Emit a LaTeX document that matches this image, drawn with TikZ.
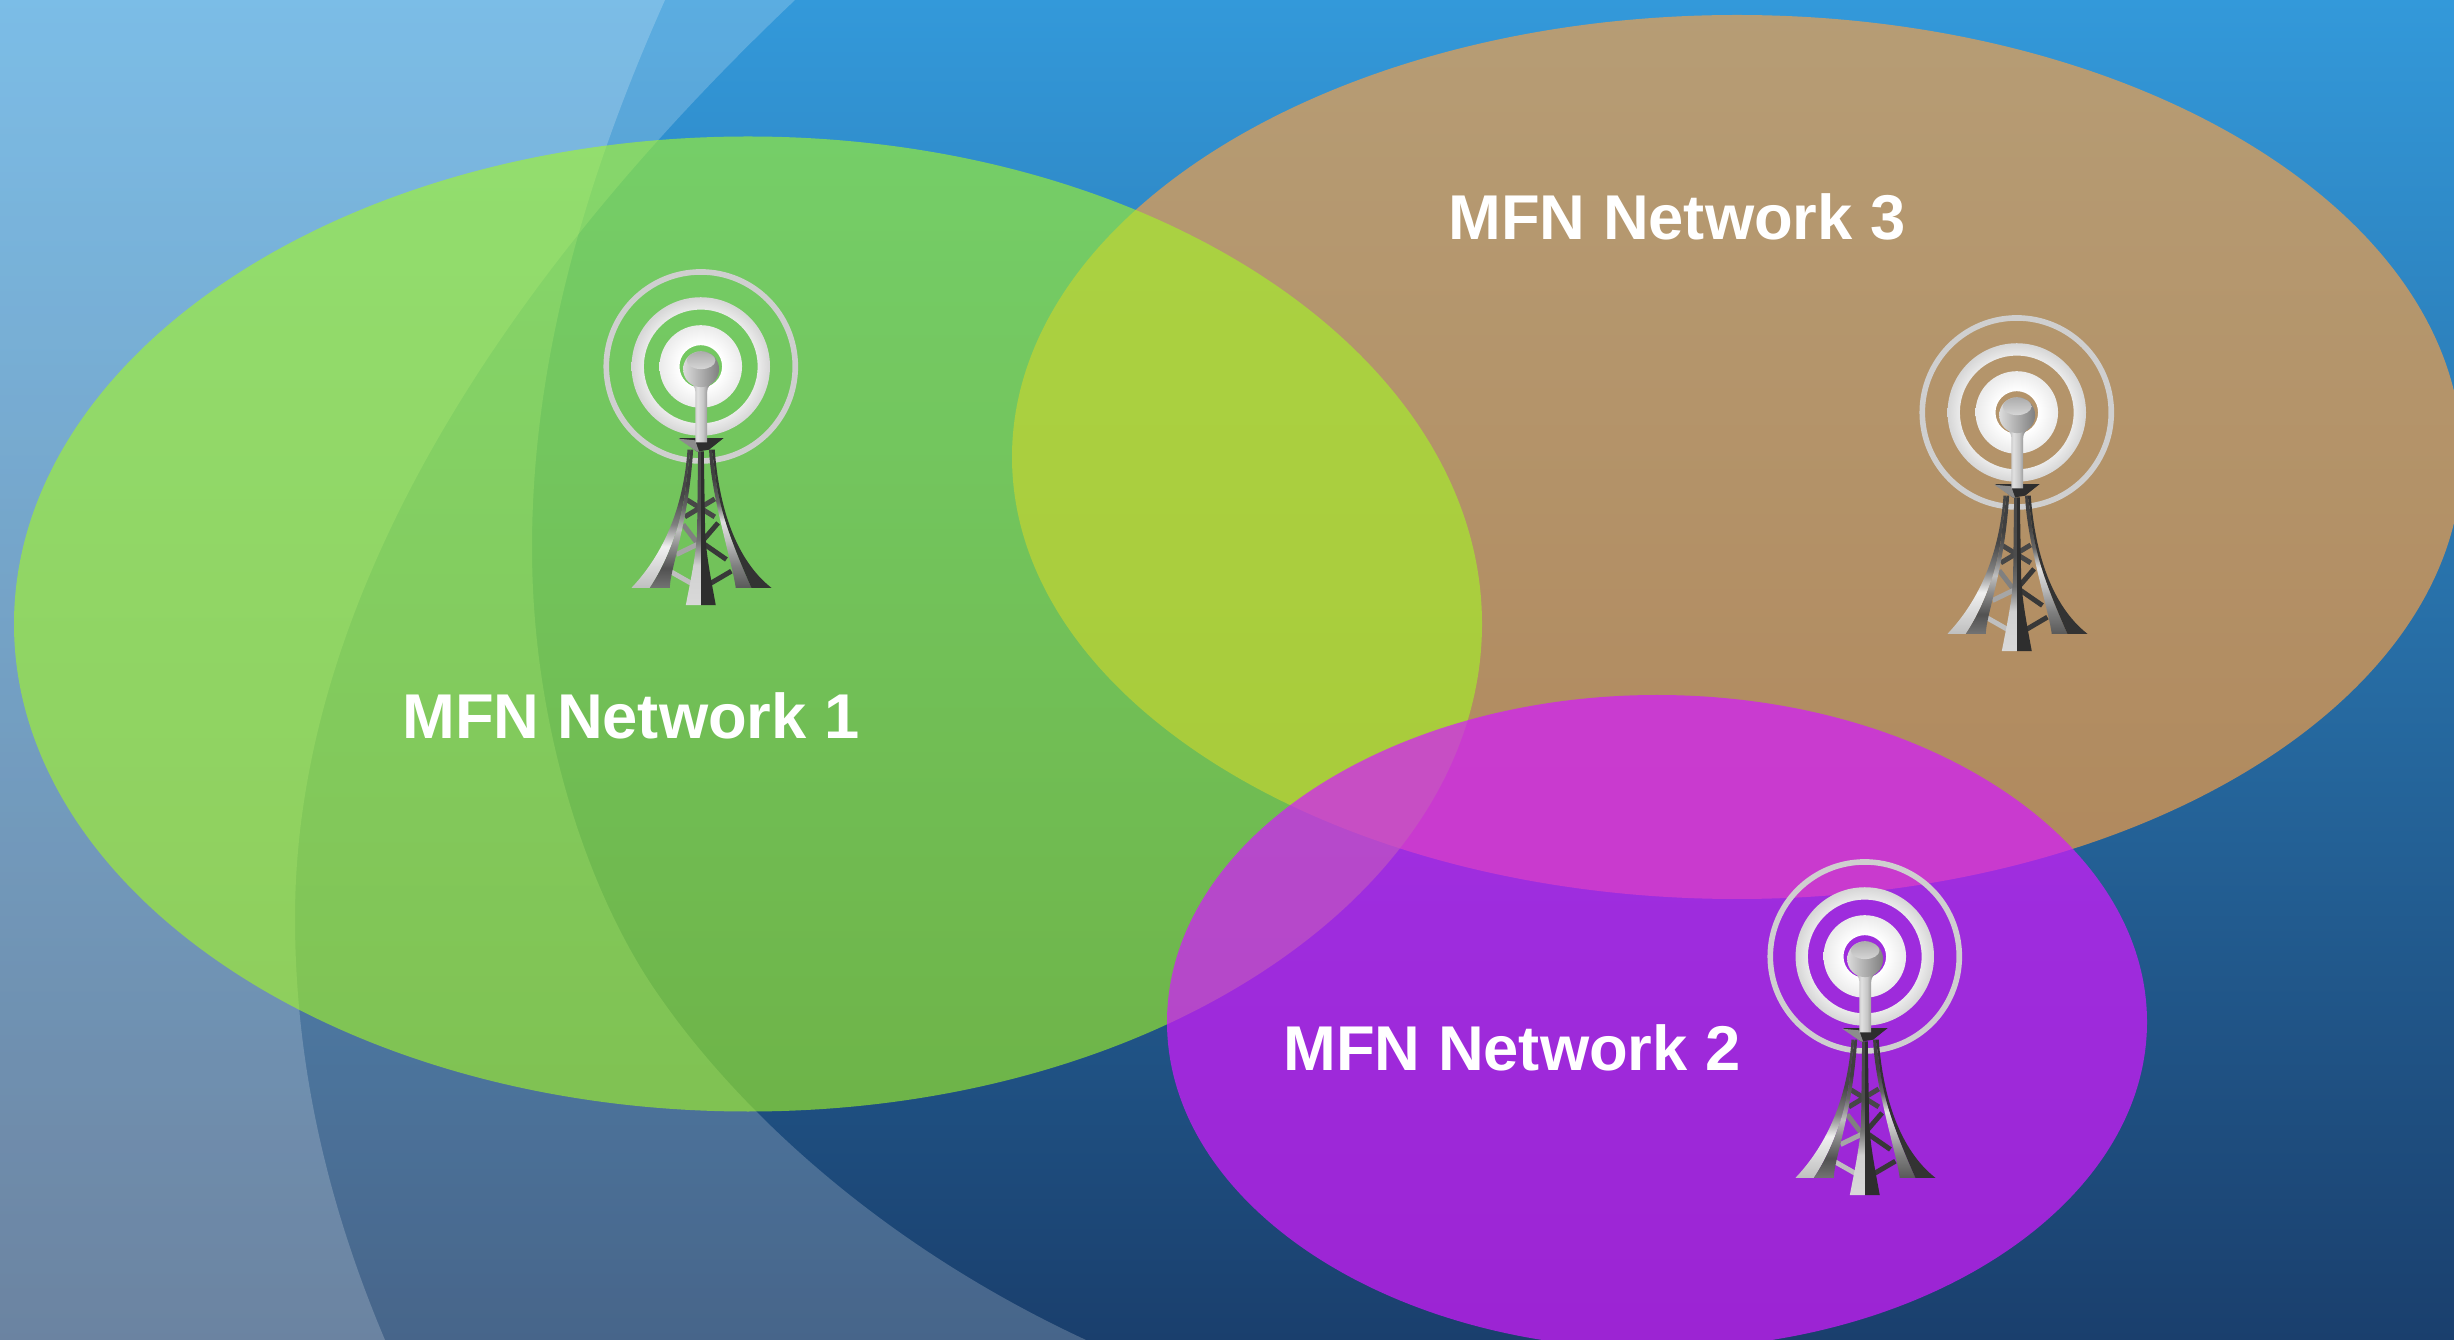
\documentclass[tikz,border=0pt]{standalone}
\usepackage{fontspec}
\setmainfont{Liberation Sans}
\definecolor{bgtop}{HTML}{3399DA}
\definecolor{bgbot}{HTML}{1A3F6D}
\definecolor{greenE}{RGB}{164,248,36}
\definecolor{brownE}{RGB}{251,160,66}
\definecolor{purpleE}{RGB}{212,25,255}
\definecolor{ringedge}{HTML}{CFCFCF}
\pgfdeclareradialshading{ringA}{\pgfpoint{0bp}{0bp}}{color(0bp)=(white);color(13bp)=(white);color(25bp)=(white!92!black);color(50bp)=(white!92!black)}
\pgfdeclareradialshading{ringB}{\pgfpoint{0bp}{0bp}}{color(0bp)=(white);color(20bp)=(white!93!black);color(25bp)=(white!84!black);color(50bp)=(white!84!black)}
% vertical shadings: 25bp = bottom of the path, 75bp = top of the path
\pgfdeclareverticalshading{legLout}{100bp}{color(0bp)=(black!25);color(25bp)=(black!25);color(33bp)=(black!15);color(40bp)=(black!6);color(48bp)=(black!50);color(58bp)=(black!72);color(75bp)=(black!72);color(100bp)=(black!72)}
\pgfdeclareverticalshading{legLin}{100bp}{color(0bp)=(black!55);color(25bp)=(black!55);color(32bp)=(black!68);color(40bp)=(black!45);color(46bp)=(black!25);color(54bp)=(black!60);color(62bp)=(black!75);color(75bp)=(black!75);color(100bp)=(black!75)}
\pgfdeclareverticalshading{legRin}{100bp}{color(0bp)=(black!65);color(25bp)=(black!65);color(33bp)=(black!50);color(42bp)=(black!25);color(49bp)=(black!12);color(56bp)=(black!60);color(65bp)=(black!75);color(75bp)=(black!75);color(100bp)=(black!75)}
\pgfdeclareverticalshading{legC}{100bp}{color(0bp)=(black!15);color(25bp)=(black!15);color(38bp)=(black!18);color(46bp)=(black!55);color(56bp)=(black!70);color(75bp)=(black!72);color(100bp)=(black!72)}
\pgfdeclarehorizontalshading{mastS}{100bp}{color(0bp)=(black!32);color(25bp)=(black!32);color(40bp)=(black!12);color(55bp)=(black!22);color(75bp)=(black!52);color(100bp)=(black!52)}
\tikzset{
  lab/.style={text=white,font=\fontsize{18}{20}\selectfont\bfseries,inner sep=0pt},
  overlay white/.style={fill=white,fill opacity=.2},
  brace/.style={line width=1.4pt,line cap=butt},
}
\newcommand{\mfntower}[2]{%
\begin{scope}[shift={(#1,#2)},x=0.0033333cm,y=-0.0033333cm]
  % rings
  \draw[draw=ringedge,line width=1.6pt] (423,380) circle[radius=284];
  \shade[shading=ringB,even odd rule] (423,380) circle[radius=208] (423,380) circle[radius=171];
  \shade[shading=ringA,even odd rule] (423,380) circle[radius=124] (423,380) circle[radius=64];
  \begin{scope}[shift={(180,570)}]
  % braces
  \draw[brace,draw=black!72] (200,210) -- (285,262);
  \draw[brace,draw=black!72] (195,262) -- (285,208);
  \draw[brace,draw=black!50] (190,285) -- (232,340);
  \draw[brace,draw=black!35] (170,375) -- (232,345);
  \draw[brace,draw=black!25] (150,425) -- (215,462);
  \draw[brace,draw=black!78] (252,330) -- (295,280);
  \draw[brace,draw=black!78] (255,345) -- (320,390);
  \draw[brace,draw=black!78] (272,462) -- (335,425);
  % left leg
  \shade[shading=legLout]
    (203,60) .. controls (196,170) and (163,340) .. (35,475) -- (90,475)
    .. controls (140,400) and (190,280) .. (200,150) -- (212,60) -- cycle;
  \shade[shading=legLin]
    (212,60) -- (200,150) .. controls (190,280) and (140,400) .. (90,475) -- (150,475)
    .. controls (150,420) and (207,280) .. (220,60) -- cycle;
  % right leg
  \shade[shading=legRin]
    (268,60) .. controls (273,200) and (338,400) .. (348,475) -- (395,475)
    .. controls (345,360) and (295,240) .. (285,120) -- (276,60) -- cycle;
  \fill[black!80] (276,60) -- (285,120) .. controls (295,240) and (345,360) .. (395,475) -- (455,475)
    .. controls (347,390) and (297,230) .. (285,60) -- cycle;
  % centre leg
  \fill[black!82] (243,65) -- (252,65) -- (256,300) .. controls (258,370) and (272,440) .. (288,527) -- (243,527) -- cycle;
  \shade[shading=legC] (235,65) -- (243,65) -- (243,527) -- (198,527) .. controls (215,440) and (230,370) .. (232,300) -- cycle;
  % platform
  \fill[black!82] (178,25) -- (312,25) -- (268,60) -- (232,66) -- cycle;
  \fill[black!45] (175,27) -- (226,32) -- (238,66) -- (232,66) -- cycle;
  \end{scope}
  % mast
  \shade[shading=mastS]
    (396,432) .. controls (405,440) and (407,450) .. (407,465) -- (407,608) -- (442,608) -- (442,465)
    .. controls (442,450) and (444,440) .. (452,432) -- cycle;
  % ball
  \shade[left color=black!14,right color=black!50] (424,388) circle[radius=54];
  \shade[top color=black!32,bottom color=black!16] (424,362) ellipse[x radius=43,y radius=26];
\end{scope}}
\begin{document}
\begin{tikzpicture}[x=0.01cm,y=-0.01cm]
  \useasboundingbox (0,0) rectangle (2454,1340);
  \clip (0,0) rectangle (2454,1340);
  \shade[top color=bgtop,bottom color=bgbot] (0,0) rectangle (2454,1340);
  % pale sweeps
  \fill[overlay white] (665,0) .. controls (580,190) and (532,370) .. (532,548)
     .. controls (532,730) and (590,900) .. (662,1000)
     .. controls (725,1090) and (860,1235) .. (1086,1340) -- (0,1340) -- (0,0) -- cycle;
  \fill[overlay white] (795,0) .. controls (500,280) and (295,600) .. (295,918)
     .. controls (295,1070) and (330,1210) .. (385,1340) -- (0,1340) -- (0,0) -- cycle;
  % coverage ellipses
  \fill[brownE,fill opacity=.66] (1737,457) ellipse[x radius=725,y radius=442];
  \fill[greenE,fill opacity=.6] (748,624) ellipse[x radius=734,y radius=487.5];
  \fill[purpleE,fill opacity=.7] (1657,1022) ellipse[x radius=490,y radius=327];
  \mfntower{560}{240}
  \mfntower{1876}{286}
  \mfntower{1724}{830}
  \node[lab] (net1) at (631,716) {MFN Network 1};
  \node[lab] (net3) at (1677,217) {MFN Network 3};
  \node[lab] (net2) at (1512,1048) {MFN Network 2};
\end{tikzpicture}
\end{document}
